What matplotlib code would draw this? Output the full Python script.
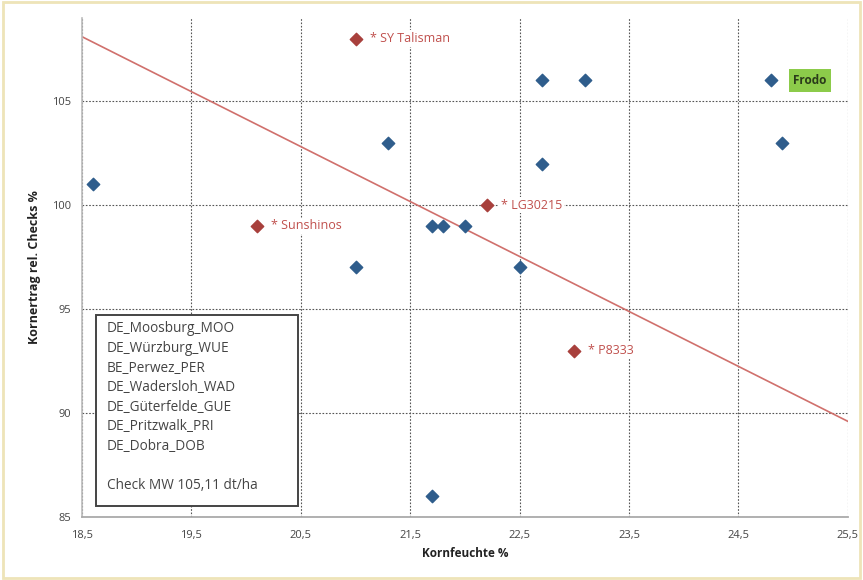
import matplotlib
matplotlib.use("Agg")
import matplotlib.pyplot as plt
from matplotlib.patches import Rectangle

plt.rcParams['font.family'] = ['Open Sans', 'DejaVu Sans']

# Data
blue_x = [18.6, 21.3, 21.0, 21.7, 21.8, 22.0, 22.5, 22.7, 22.7, 23.1, 24.8, 24.9, 21.7]
blue_y = [101, 103, 97, 99, 99, 99, 97, 106, 102, 106, 106, 103, 86]
red_names = ["* SY Talisman", "* Sunshinos", "* LG30215", "* P8333"]
red_x = [21.0, 20.1, 22.2, 23.0]
red_y = [108, 99, 100, 93]
frodo_name = "Frodo"
frodo_x, frodo_y = 24.8, 106
trend_x = [18.5, 25.5]
trend_y = [108.1, 89.6]
x_ticks = [18.5, 19.5, 20.5, 21.5, 22.5, 23.5, 24.5, 25.5]
y_ticks = [85, 90, 95, 100, 105]
locations = ["DE_Moosburg_MOO", "DE_Würzburg_WUE", "BE_Perwez_PER", "DE_Wadersloh_WAD",
             "DE_Güterfelde_GUE", "DE_Pritzwalk_PRI", "DE_Dobra_DOB", "", "Check MW 105,11 dt/ha"]

fig = plt.figure(figsize=(8.63, 5.8), dpi=100)
fig.patch.set_facecolor('white')
fig.patches.append(Rectangle((0.003, 0.004), 0.994, 0.992, transform=fig.transFigure,
                             fill=False, edgecolor='#EEE4B8', linewidth=2))
ax = fig.add_axes([0.095, 0.1086, 0.8875, 0.8604])

ax.set_xlim(18.5, 25.5)
ax.set_ylim(85, 109)
ax.set_xticks(x_ticks)
ax.set_xticklabels([f"{v:.1f}".replace('.', ',') for v in x_ticks])
ax.set_yticks(y_ticks)
ax.set_yticklabels([str(v) for v in y_ticks])
ax.tick_params(axis='both', labelsize=8, colors='#444444', length=0)
ax.tick_params(axis='x', pad=9)
ax.tick_params(axis='y', pad=8)

ax.grid(True, color='#555555', linestyle=(0, (1.5, 1.5)), linewidth=0.8)
ax.set_axisbelow(True)
for s in ['top', 'right']:
    ax.spines[s].set_visible(False)
ax.spines['left'].set_color('#BBBBBB')
ax.spines['left'].set_linewidth(1.2)
ax.spines['bottom'].set_color('#AAAAAA')
ax.spines['bottom'].set_linewidth(1.3)

ax.plot(trend_x, trend_y, color='#D0706C', linewidth=1.2, zorder=2)

ax.scatter(blue_x, blue_y, marker='D', s=40, color='#2F5D8C', zorder=3)
ax.scatter(red_x, red_y, marker='D', s=40, color='#A8403C', zorder=3)

for n, x, y in zip(red_names, red_x, red_y):
    ax.annotate(n, (x, y), xytext=(14, 0), textcoords='offset pixels', va='center', ha='left',
                fontsize=9, color='#C0504D', zorder=4,
                bbox=dict(boxstyle='square,pad=0.15', facecolor='white', edgecolor='none'))

ax.annotate(frodo_name, (frodo_x, frodo_y), xytext=(22, 0), textcoords='offset pixels',
            va='center', ha='left', fontsize=8.5, fontweight='bold', color='#2A3A1A', zorder=4,
            bbox=dict(boxstyle='square,pad=0.4', facecolor='#8CCB4A', edgecolor='none'))

ax.set_xlabel("Kornfeuchte %", fontsize=8.5, fontweight='bold', color='#222222', labelpad=5)
ax.set_ylabel("Kornertrag rel. Checks %", fontsize=9, fontweight='bold', color='#222222', labelpad=8)

ax.add_patch(Rectangle((0.018, 0.022), 0.264, 0.383, transform=ax.transAxes,
                       facecolor='white', edgecolor='#444444', linewidth=1.4, zorder=5))
ax.text(0.0326, 0.392, "\n".join(locations), transform=ax.transAxes, fontsize=9.8,
        color='#444444', va='top', ha='left', linespacing=1.42, zorder=6)

fig.savefig("out.png", dpi=100)
